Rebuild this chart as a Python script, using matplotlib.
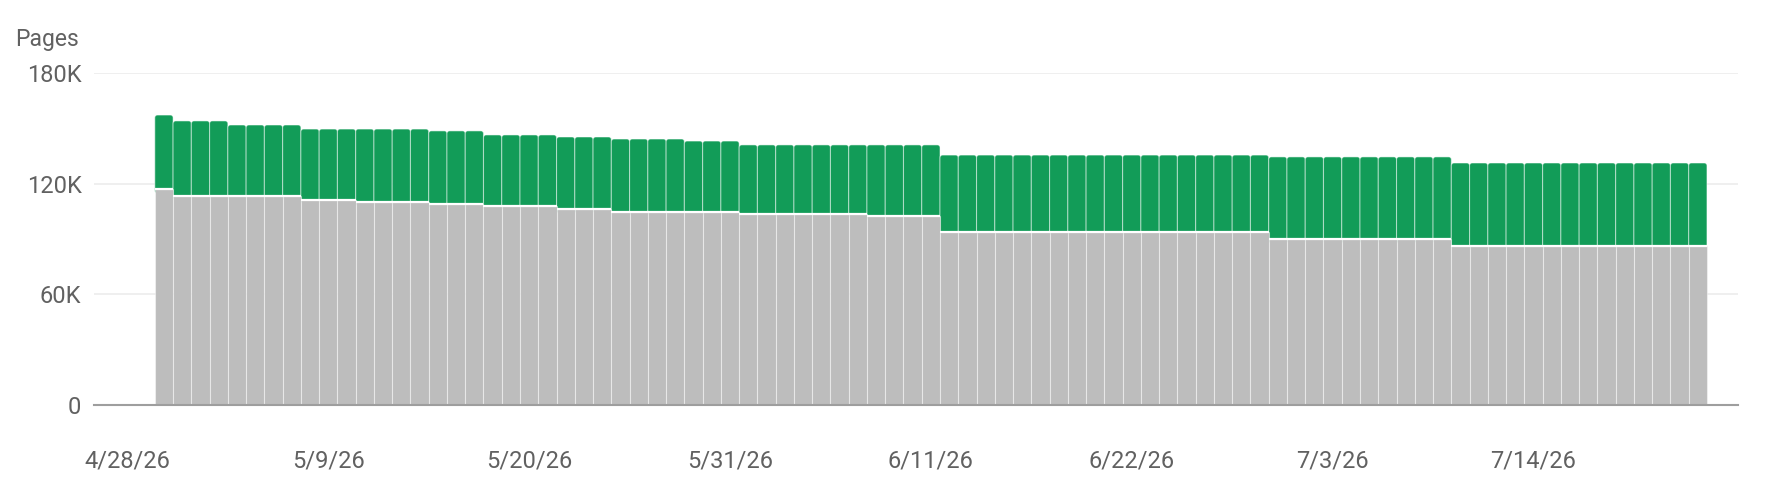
import matplotlib
matplotlib.use("Agg")
import matplotlib.pyplot as plt
import matplotlib.dates as mdates
import matplotlib.ticker as mticker
from matplotlib.patches import FancyBboxPatch
import numpy as np
import pandas as pd

# daily values, in pages
dates = pd.date_range("2026-04-30", periods=85, freq="D")

grey_k = [
    116.9,
    113.5, 113.5, 113.5, 113.5, 113.5, 113.5, 113.5,
    111.3, 111.3, 111.3,
    110.2, 110.2, 110.2, 110.2,
    109.0, 109.0, 109.0,
    107.9, 107.9, 107.9, 107.9,
    106.1, 106.1, 106.1,
    104.8, 104.8, 104.8, 104.8, 104.8, 104.8, 104.8,
    103.7, 103.7, 103.7, 103.7, 103.7, 103.7, 103.7,
    102.6, 102.6, 102.6, 102.6,
    94.0, 94.0, 94.0, 94.0, 94.0, 94.0, 94.0, 94.0, 94.0,
    94.0, 94.0, 94.0, 94.0, 94.0, 94.0, 94.0, 94.0, 94.0,
    89.8, 89.8, 89.8, 89.8, 89.8, 89.8, 89.8, 89.8, 89.8, 89.8,
    86.4, 86.4, 86.4, 86.4, 86.4, 86.4, 86.4,
    86.4, 86.4, 86.4, 86.4, 86.4, 86.4, 86.4,
]
green_k = [
    40.3,
    40.5, 40.5, 40.5,
    38.3, 38.3, 38.3, 38.3,
    38.3, 38.3, 38.3,
    39.4, 39.4, 39.4, 39.4,
    39.6, 39.6, 39.6,
    38.5, 38.5, 38.5, 38.5,
    39.2, 39.2, 39.2,
    39.4, 39.4, 39.4, 39.4,
    38.3, 38.3, 38.3,
    37.3, 37.3, 37.3, 37.3, 37.3, 37.3, 37.3,
    38.4, 38.4, 38.4, 38.4,
    41.5, 41.5, 41.5, 41.5, 41.5, 41.5, 41.5, 41.5, 41.5,
    41.5, 41.5, 41.5, 41.5, 41.5, 41.5, 41.5, 41.5, 41.5,
    44.7, 44.7, 44.7, 44.7, 44.7, 44.7, 44.7, 44.7, 44.7, 44.7,
    44.8, 44.8, 44.8, 44.8, 44.8, 44.8, 44.8,
    44.8, 44.8, 44.8, 44.8, 44.8, 44.8, 44.8,
]
grey_vals = np.array(grey_k) * 1000
green_vals = np.array(green_k) * 1000

tick_labels = ["4/28/26", "5/9/26", "5/20/26", "5/31/26",
               "6/11/26", "6/22/26", "7/3/26", "7/14/26"]
y_ticks = [0, 60000, 120000, 180000]

GREEN = "#129c58"
GREY = "#bdbdbd"
TEXT = "#616161"

plt.rcParams["font.family"] = ["Roboto", "DejaVu Sans"]

fig = plt.figure(figsize=(17.74, 4.94), dpi=100)
ax = fig.add_axes([94 / 1774, 89 / 494, (1738 - 94) / 1774, (405 - 73) / 494])

tick_dates = pd.to_datetime(tick_labels, format="%m/%d/%y")
ax.set_xlim(tick_dates[0] - pd.Timedelta(days=1.83), tick_dates[0] + pd.Timedelta(days=88.2))
ax.set_ylim(0, 180000)

# pixels -> data units, so the top corners come out round
x0, x1 = ax.get_xlim()
bbox = ax.get_window_extent()
x_per_px = (x1 - x0) / bbox.width
y_per_px = 180000 / bbox.height
radius = 2.6 * x_per_px
aspect = y_per_px / x_per_px

sep = (1, 1, 1, 0.45)
xnum = mdates.date2num(dates)
# green segments (rounded), tucked a little under the grey so only the top is round
for xc, g0, g in zip(xnum, grey_vals, green_vals):
    under = 4 * y_per_px
    p = FancyBboxPatch((xc - 0.5, g0 - under), 1.0, g + under,
                       boxstyle=f"round,pad=0,rounding_size={radius}",
                       mutation_aspect=aspect,
                       facecolor=GREEN, edgecolor=sep, linewidth=0.8, zorder=2)
    ax.add_patch(p)
ax.bar(dates, grey_vals, width=1.0, color=GREY, edgecolor=sep, linewidth=0.8, zorder=2.5)
day = pd.Timedelta(days=1)
ax.hlines(grey_vals, mdates.date2num(dates - day / 2), mdates.date2num(dates + day / 2),
          color="white", linewidth=1.6, zorder=3)

ax.set_xticks(tick_dates)
ax.set_xticklabels(tick_labels)
ax.set_xlim(x0, x1)

ax.set_yticks(y_ticks)
ax.yaxis.set_major_formatter(mticker.FuncFormatter(
    lambda v, p: "0" if v == 0 else f"{int(v / 1000)}K"))

ax.grid(axis="y", color="#ebebeb", linewidth=1.1, zorder=0)
ax.set_axisbelow(True)
for s in ["top", "right", "left"]:
    ax.spines[s].set_visible(False)
ax.spines["bottom"].set_color("#9e9e9e")
ax.spines["bottom"].set_linewidth(1.5)
ax.spines["bottom"].set_zorder(4)

ax.tick_params(axis="both", length=0, labelsize=17, labelcolor=TEXT)
ax.tick_params(axis="x", pad=32)
ax.tick_params(axis="y", pad=9)

fig.text(15 / 1774, 1 - 46 / 494, "Pages", fontsize=16.5, color=TEXT, va="baseline")

fig.savefig("out.png", dpi=100)
